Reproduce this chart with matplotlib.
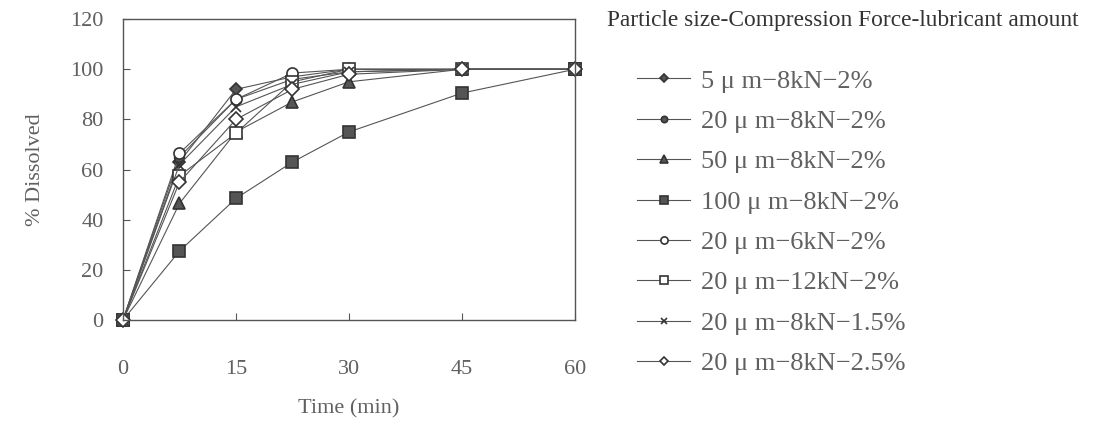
import matplotlib.pyplot as plt

plt.rcParams['font.family'] = ['Liberation Serif', 'DejaVu Serif']

time_min = [0, 7.5, 15, 22.5, 30, 45, 60]

labels = [
    '5 μ m−8kN−2%',
    '20 μ m−8kN−2%',
    '50 μ m−8kN−2%',
    '100 μ m−8kN−2%',
    '20 μ m−6kN−2%',
    '20 μ m−12kN−2%',
    '20 μ m−8kN−1.5%',
    '20 μ m−8kN−2.5%',
]

d_5um_8kn_2 = [0, 63, 92, 97, 100, 100, 100]
d_20um_8kn_2 = [0, 65, 88, 96, 99, 100, 100]
d_50um_8kn_2 = [0, 46.5, 75, 87, 95, 100, 100]
d_100um_8kn_2 = [0, 27.5, 48.5, 63, 75, 90.5, 100]
d_20um_6kn_2 = [0, 66.5, 88, 98.5, 100, 100, 100]
d_20um_12kn_2 = [0, 57.5, 74.5, 95, 100, 100, 100]
d_20um_8kn_15 = [0, 62, 85, 94, 99, 100, 100]
d_20um_8kn_25 = [0, 55, 80, 92, 98, 100, 100]

series = [d_5um_8kn_2, d_20um_8kn_2, d_50um_8kn_2, d_100um_8kn_2,
          d_20um_6kn_2, d_20um_12kn_2, d_20um_8kn_15, d_20um_8kn_25]
markers = ['D', 'o', '^', 's', 'o', 's', 'x', 'D']
filled = [True, True, True, True, False, False, True, False]
sizes = [6, 7, 8, 8, 8, 8, 7, 7]

line_col = '#555555'
text_col = '#606060'

fig = plt.figure(figsize=(10.96, 4.25), dpi=100)
ax = fig.add_axes([0.1122, 0.247, 0.4124, 0.708])

for vals, lab, m, f, s in zip(series, labels, markers, filled, sizes):
    ln, = ax.plot(time_min, vals, color=line_col, linewidth=0.8, marker=m,
                  markersize=s, markerfacecolor=line_col if f else 'white',
                  markeredgecolor='#333333', markeredgewidth=1.2, label=lab)
    ln.set_clip_on(False)

ax.set_xlim(0, 60)
ax.set_ylim(0, 120)
ax.set_xticks([0, 15, 30, 45, 60])
ax.set_yticks(range(0, 121, 20))
ax.tick_params(direction='in', length=5, color='#555555', labelsize=16,
               labelcolor=text_col)
ax.tick_params(axis='x', pad=29)
ax.tick_params(axis='y', pad=14)
for sp in ax.spines.values():
    sp.set_color('#555555')
    sp.set_linewidth(1)

ax.set_xlabel('Time (min)', fontsize=16, color=text_col, labelpad=14)
ax.set_ylabel('% Dissolved', fontsize=16, color=text_col, labelpad=18)

fig.text(0.554, 0.952, 'Particle size-Compression Force-lubricant amount',
         fontsize=16.8, color='#333333', va='center')

leg = fig.legend(loc='upper left', bbox_to_anchor=(0.572, 0.862),
                 frameon=False, fontsize=19, labelcolor=text_col,
                 handlelength=2.0, handletextpad=0.4, labelspacing=0.64,
                 markerscale=0.65, borderaxespad=0)

fig.savefig('out.png', dpi=100)
